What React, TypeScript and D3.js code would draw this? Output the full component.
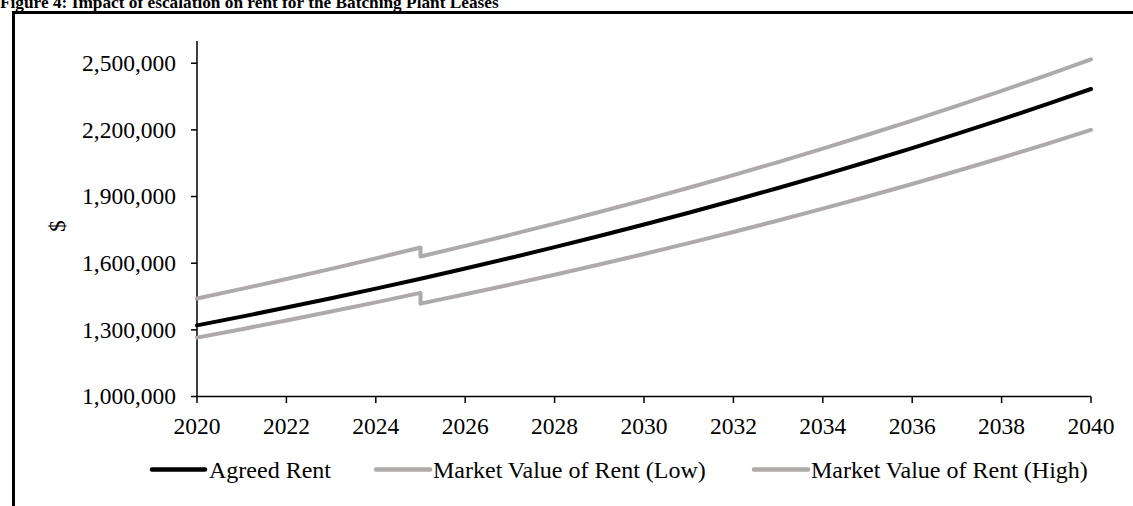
import React from "react";
import * as d3 from "d3";

const years = [2020, 2021, 2022, 2023, 2024, 2025, 2026, 2027, 2028, 2029, 2030, 2031, 2032, 2033, 2034, 2035, 2036, 2037, 2038, 2039, 2040];
const agreedRent = [1320000, 1359600, 1400400, 1442400, 1485700, 1530200, 1576100, 1623400, 1672100, 1722300, 1773900, 1827100, 1882000, 1938400, 1996600, 2056500, 2118200, 2181700, 2247200, 2314600, 2384000];

// market series have a step at 2025 (two points at the same year)
const marketYears = [2020, 2021, 2022, 2023, 2024, 2025, 2025, 2026, 2027, 2028, 2029, 2030, 2031, 2032, 2033, 2034, 2035, 2036, 2037, 2038, 2039, 2040];
const marketLow = [1265000, 1303000, 1342000, 1382300, 1423800, 1466500, 1418000, 1460100, 1503500, 1548100, 1594100, 1641500, 1690200, 1740400, 1792100, 1845300, 1900100, 1956600, 2014700, 2074500, 2136100, 2199600];
const marketHigh = [1441000, 1484200, 1528700, 1574600, 1621800, 1670500, 1630000, 1677900, 1727300, 1778000, 1830300, 1884100, 1939500, 1996500, 2055200, 2115700, 2177900, 2241900, 2307800, 2375600, 2445500, 2517400];

const yTicks = [1000000, 1300000, 1600000, 1900000, 2200000, 2500000];
const xTicks = [2020, 2022, 2024, 2026, 2028, 2030, 2032, 2034, 2036, 2038, 2040];

const seriesNames = ["Agreed Rent", "Market Value of Rent (Low)", "Market Value of Rent (High)"];

const W = 1133;
const H = 506;
const FONT = '"Times New Roman", "Liberation Serif", serif';
const GREY = "#AEAAAA";

export default function App() {
  const x = d3.scaleLinear().domain([2020, 2040]).range([197, 1091]);
  const y = d3.scaleLinear().domain([1000000, 2600000]).range([396.5, 41]);
  const fmt = d3.format(",");

  const line = d3
    .line<[number, number]>()
    .x((d) => x(d[0]))
    .y((d) => y(d[1]));

  const agreedPath = line(years.map((yr, i) => [yr, agreedRent[i]]));
  const lowPath = line(marketYears.map((yr, i) => [yr, marketLow[i]]));
  const highPath = line(marketYears.map((yr, i) => [yr, marketHigh[i]]));

  const legend = [
    { name: seriesNames[0], color: "#000000", x1: 152, x2: 205, tx: 209 },
    { name: seriesNames[1], color: GREY, x1: 376, x2: 430, tx: 433 },
    { name: seriesNames[2], color: GREY, x1: 754, x2: 808, tx: 811 },
  ];

  return (
    <svg
      width={W}
      height={H}
      viewBox={`0 0 ${W} ${H}`}
      style={{ position: "absolute", left: 0, top: 0, background: "#fff" }}
      fontFamily={FONT}
    >
      <rect x={0} y={0} width={W} height={H} fill="#fff" />
      {/* title, partially cut at the top */}
      <text x={0} y={8} fontSize={17.3} fontWeight="bold" fill="#000">
        Figure 4: Impact of escalation on rent for the Batching Plant Leases
      </text>
      {/* frame */}
      <rect x={13.5} y={12.5} width={W + 20} height={H + 20} fill="none" stroke="#000" strokeWidth={3} />

      {/* y axis */}
      <line x1={197} x2={197} y1={y(2600000)} y2={y(1000000)} stroke="#000" strokeWidth={1.5} />
      {yTicks.map((t) => (
        <g key={t}>
          <line x1={191} x2={197} y1={y(t)} y2={y(t)} stroke="#000" strokeWidth={1.5} />
          <text x={176} y={y(t) + 7.7} fontSize={23.5} textAnchor="end" fill="#000">
            {fmt(t)}
          </text>
        </g>
      ))}
      <text
        transform={`translate(65,226) rotate(-90)`}
        fontSize={23.5}
        textAnchor="middle"
        fill="#000"
      >
        $
      </text>

      {/* x axis */}
      <line x1={x(2020)} x2={x(2040)} y1={396.5} y2={396.5} stroke="#000" strokeWidth={1.5} />
      {xTicks.map((t) => (
        <g key={t}>
          <line x1={x(t)} x2={x(t)} y1={396.5} y2={403} stroke="#000" strokeWidth={1.5} />
          <text x={x(t)} y={434} fontSize={23.5} textAnchor="middle" fill="#000">
            {t}
          </text>
        </g>
      ))}

      {/* series */}
      <path d={agreedPath || ""} fill="none" stroke="#000" strokeWidth={4} strokeLinecap="round" strokeLinejoin="round" />
      <path d={lowPath || ""} fill="none" stroke={GREY} strokeWidth={4} strokeLinecap="round" strokeLinejoin="round" />
      <path d={highPath || ""} fill="none" stroke={GREY} strokeWidth={4} strokeLinecap="round" strokeLinejoin="round" />

      {/* legend */}
      {legend.map((l) => (
        <g key={l.name}>
          <line x1={l.x1} x2={l.x2} y1={469.5} y2={469.5} stroke={l.color} strokeWidth={4.5} strokeLinecap="round" />
          <text x={l.tx} y={478} fontSize={24} fill="#000">
            {l.name}
          </text>
        </g>
      ))}
    </svg>
  );
}
